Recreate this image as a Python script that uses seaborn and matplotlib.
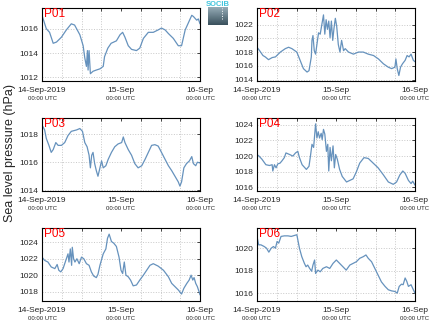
import numpy as np
import pandas as pd
import matplotlib
matplotlib.use("Agg")
import matplotlib.pyplot as plt
import seaborn as sns
from matplotlib.colors import LinearSegmentedColormap

# ---------------- data (hours since 14-Sep-2019 00:00 UTC, hPa) ----------------
p01_h = [0, 1.3, 2.3, 3.4, 4.4, 5.9, 7.4, 8.9, 9.9, 11.5, 12.5, 13.0, 13.5, 13.8, 14.0, 14.3, 14.7,
         15.5, 16.5, 17.6, 18.6, 19.0, 20.0, 21.0, 22.6, 23.7, 24.5, 25.2, 26.2, 27.2, 28.7, 29.7,
         30.8, 32.3, 33.8, 35.3, 36.3, 37.4, 38.4, 39.9, 41.4, 42.4, 43.5, 44.5, 45.5, 46.0, 47.0, 47.5, 48.0]
p01_v = [1017.1, 1016.0, 1015.7, 1014.8, 1014.9, 1015.3, 1015.9, 1016.4, 1016.3, 1015.5, 1014.6, 1013.6,
         1012.9, 1014.2, 1012.6, 1014.2, 1012.3, 1012.5, 1012.6, 1012.7, 1012.9, 1013.7, 1014.4, 1014.8,
         1015.0, 1015.5, 1015.7, 1015.3, 1014.6, 1014.3, 1014.2, 1014.4, 1015.2, 1015.7, 1015.7, 1015.9,
         1016.05, 1015.9, 1015.6, 1015.2, 1014.6, 1014.6, 1015.9, 1016.5, 1017.1, 1017.0, 1016.7, 1016.8, 1016.4]

p02_h = [0, 0.8, 1.8, 2.5, 3.5, 4.6, 5.6, 7.1, 8.6, 9.6, 10.6, 12.1, 13.1, 14.1, 15.2, 15.8, 16.5, 16.7,
         17.0, 17.4, 17.8, 18.2, 18.7, 19.2, 19.7, 20.2, 20.6, 21.0, 21.4, 21.8, 22.2, 22.6, 23.0, 23.4,
         23.8, 24.2, 24.7, 25.2, 25.7, 26.3, 26.8, 27.8, 29.3, 30.8, 32.3, 33.8, 35.4, 36.9, 38.4, 39.9,
         40.9, 41.9, 42.2, 42.6, 43.1, 43.6, 44.2, 45.0, 45.6, 46.2, 46.8, 47.5, 48.0]
p02_v = [1018.7, 1018.2, 1017.5, 1017.3, 1016.9, 1017.2, 1017.3, 1018.0, 1018.5, 1018.7, 1018.5, 1018.0,
         1016.8, 1015.6, 1015.1, 1015.3, 1017.3, 1019.7, 1020.4, 1018.2, 1017.7, 1019.1, 1020.8, 1020.6,
         1022.0, 1023.4, 1020.6, 1022.7, 1021.3, 1022.5, 1020.1, 1022.5, 1019.7, 1021.5, 1022.9, 1021.8,
         1019.1, 1018.0, 1019.7, 1018.2, 1018.5, 1018.0, 1017.7, 1018.0, 1018.0, 1017.7, 1017.5, 1017.0,
         1016.3, 1015.8, 1015.6, 1015.8, 1017.0, 1015.6, 1014.6, 1015.8, 1016.3, 1016.8, 1017.5, 1017.3,
         1017.7, 1016.8, 1016.6]

p03_h = [0, 0.8, 1.3, 2.1, 2.8, 3.4, 4.2, 4.9, 5.9, 6.9, 7.9, 8.9, 10.5, 11.5, 12.3, 13.0, 13.7, 14.3,
         14.7, 15.1, 15.5, 16.0, 16.5, 17.0, 17.5, 18.1, 18.6, 19.4, 20.1, 21.1, 22.1, 23.1, 24.2, 24.7,
         25.2, 26.2, 27.2, 28.2, 29.2, 30.3, 31.3, 32.3, 33.3, 34.3, 35.3, 36.3, 37.4, 38.4, 39.4, 40.4,
         41.4, 41.9, 42.4, 43.1, 43.9, 44.8, 45.5, 46.0, 46.7, 47.2, 48.0]
p03_v = [1018.65, 1018.3, 1017.7, 1017.2, 1016.7, 1016.9, 1017.4, 1017.2, 1017.2, 1017.4, 1017.9, 1018.2,
         1018.3, 1018.4, 1018.2, 1017.4, 1017.1, 1016.5, 1015.6, 1016.5, 1016.7, 1015.9, 1015.4, 1015.0,
         1015.5, 1016.1, 1015.6, 1015.75, 1016.2, 1016.7, 1017.1, 1017.3, 1017.4, 1017.8, 1017.4, 1016.9,
         1016.5, 1015.9, 1015.6, 1015.75, 1016.2, 1016.7, 1017.2, 1017.25, 1017.15, 1016.7, 1016.2, 1015.75,
         1015.4, 1015.0, 1014.6, 1014.3, 1014.6, 1015.6, 1015.9, 1016.1, 1016.4, 1015.9, 1015.75, 1016.0, 1015.95]

p04_h = [0, 0.6, 1.5, 2.7, 3.8, 4.6, 4.8, 5.3, 5.8, 6.3, 7.0, 7.6, 8.3, 8.8, 9.9, 10.9, 11.7, 12.4, 12.9,
         13.7, 15.0, 15.8, 16.3, 16.7, 17.2, 17.8, 18.2, 18.6, 19.0, 19.5, 19.8, 20.2, 20.6, 21.1, 21.5,
         21.8, 22.2, 22.6, 23.1, 23.5, 23.9, 24.4, 25.1, 25.9, 27.2, 28.2, 29.2, 30.2, 31.2, 32.5, 33.8,
         35.3, 36.8, 38.4, 39.9, 41.4, 42.4, 43.4, 44.3, 45.0, 46.0, 46.8, 47.3, 48.0]
p04_v = [1020.2, 1020.0, 1019.6, 1018.9, 1018.8, 1018.9, 1018.1, 1018.9, 1018.5, 1019.0, 1019.1, 1019.4,
         1019.8, 1020.4, 1020.2, 1020.0, 1020.4, 1020.6, 1019.8, 1018.9, 1018.3, 1018.7, 1020.2, 1021.5,
         1021.1, 1024.1, 1022.3, 1023.1, 1022.3, 1022.9, 1022.1, 1023.4, 1022.8, 1020.6, 1021.5, 1018.1,
         1021.1, 1019.4, 1021.3, 1018.5, 1020.2, 1019.6, 1018.3, 1017.4, 1016.7, 1016.9, 1017.1, 1018.0,
         1019.1, 1019.8, 1019.7, 1019.1, 1018.5, 1017.6, 1016.7, 1016.4, 1016.7, 1017.6, 1018.1, 1017.8,
         1016.9, 1016.5, 1016.8, 1016.3]

p05_h = [0, 0.8, 1.8, 2.8, 3.9, 4.6, 5.1, 5.7, 6.4, 6.9, 7.4, 7.9, 8.2, 8.6, 9.0, 9.2, 9.6, 10.0, 10.6,
         11.3, 12.0, 12.7, 13.5, 14.3, 15.0, 15.7, 16.5, 17.0, 17.6, 18.6, 19.4, 19.9, 20.4, 21.1, 21.8,
         22.6, 23.4, 24.0, 24.5, 25.0, 25.5, 26.2, 26.9, 27.7, 28.7, 29.7, 30.8, 31.8, 32.8, 33.8, 35.3,
         36.9, 38.4, 39.4, 40.4, 41.4, 42.4, 43.1, 44.0, 44.7, 45.3, 45.8, 46.2, 46.7, 47.2, 47.7, 48.0]
p05_v = [1022.2, 1021.8, 1021.6, 1021.0, 1020.8, 1021.3, 1020.6, 1020.4, 1020.8, 1021.4, 1022.0, 1022.6,
         1021.6, 1023.2, 1021.2, 1023.4, 1022.0, 1021.6, 1022.0, 1021.4, 1022.2, 1022.0, 1021.4, 1021.2,
         1020.4, 1019.9, 1019.7, 1020.1, 1021.2, 1022.6, 1023.2, 1024.5, 1025.0, 1024.1, 1023.9, 1023.5,
         1022.2, 1020.6, 1020.2, 1021.6, 1020.0, 1019.8, 1019.4, 1018.7, 1018.8, 1019.4, 1020.0, 1020.6,
         1021.2, 1021.4, 1021.1, 1020.6, 1019.8, 1019.0, 1018.6, 1018.2, 1017.7, 1018.4, 1019.0, 1019.4,
         1020.0, 1019.4, 1019.7, 1019.0, 1018.6, 1018.0, 1017.6]

p06_h = [0, 0.5, 1.2, 2.2, 2.9, 3.6, 4.3, 5.0, 5.6, 6.1, 6.6, 7.3, 8.3, 9.4, 10.4, 12.1, 12.4, 12.9, 13.6,
         14.4, 14.9, 15.4, 16.0, 16.6, 17.0, 17.5, 17.8, 18.5, 19.2, 20.0, 21.1, 22.1, 23.1, 24.1, 25.1,
         26.1, 27.1, 28.2, 29.2, 30.2, 31.2, 32.3, 33.1, 33.8, 34.8, 35.8, 36.8, 37.8, 38.9, 39.9, 40.9,
         41.9, 42.6, 43.2, 43.9, 44.4, 45.0, 45.5, 46.0, 46.8, 47.5, 48.0]
p06_v = [1021.05, 1020.3, 1020.3, 1020.15, 1020.0, 1019.65, 1020.0, 1020.15, 1020.0, 1020.6, 1020.45,
         1021.05, 1021.1, 1021.1, 1021.05, 1021.2, 1020.75, 1020.0, 1019.25, 1018.65, 1018.35, 1018.5,
         1018.2, 1017.95, 1018.5, 1018.95, 1017.75, 1018.05, 1017.9, 1018.2, 1018.35, 1018.2, 1018.65,
         1018.95, 1018.65, 1018.35, 1018.05, 1018.5, 1018.65, 1018.8, 1019.1, 1019.25, 1019.4, 1019.1,
         1018.8, 1018.2, 1017.6, 1017.0, 1016.6, 1016.3, 1016.2, 1016.15, 1016.0, 1016.6, 1016.8, 1016.75,
         1017.35, 1017.05, 1016.6, 1016.75, 1016.3, 1016.0]

stations = ["P01", "P02", "P03", "P04", "P05", "P06"]
hours = [p01_h, p02_h, p03_h, p04_h, p05_h, p06_h]
values = [p01_v, p02_v, p03_v, p04_v, p05_v, p06_v]
ylims = [(1011.7, 1017.7), (1013.8, 1024.4), (1013.95, 1019.15),
         (1015.55, 1024.85), (1016.85, 1025.75), (1015.3, 1021.8)]
yticks = [[1012, 1014, 1016], [1014, 1016, 1018, 1020, 1022], [1014, 1016, 1018],
          [1016, 1018, 1020, 1022, 1024], [1018, 1020, 1022, 1024], [1016, 1018, 1020]]
xtick_pos = [0, 24, 48]
xtick_labels = ["14-Sep-2019", "15-Sep", "16-Sep"]
xtick_sub = "00:00 UTC"

# ---------------- style ----------------
sns.set_style("white")
plt.rcParams["font.family"] = ["Liberation Sans", "DejaVu Sans"]

W, H = 434, 327
fig = plt.figure(figsize=(W / 100, H / 100), dpi=100)

lefts = [42, 257]
tops = [8, 118, 228]
pw, ph = 158, 73
line_color = "#6692bd"

for i, name in enumerate(stations):
    r, c = divmod(i, 2)
    l, t = lefts[c], tops[r]
    ax = fig.add_axes([l / W, (H - t - ph) / H, pw / W, ph / H])
    df = pd.DataFrame({"hour": hours[i], "slp": values[i]})
    sns.lineplot(data=df, x="hour", y="slp", ax=ax, color=line_color, lw=0.9,
                 estimator=None, sort=False)
    ax.set_xlim(0, 48)
    ax.set_ylim(*ylims[i])
    ax.set_yticks(yticks[i])
    ax.set_yticklabels([str(v) for v in yticks[i]], fontsize=6)
    ax.set_xticks(xtick_pos)
    ax.set_xticklabels(xtick_labels, fontsize=6)
    ax.set_xticks(np.arange(0, 49, 6), minor=True)
    ax.tick_params(axis="both", which="both", direction="in", length=2, width=0.6,
                   top=True, right=True, pad=3)
    ax.tick_params(axis="x", which="major", pad=4)
    ax.grid(True, which="minor", axis="x", color="#c8c8c8", linestyle=":", lw=0.7)
    ax.grid(True, which="major", axis="y", color="#c8c8c8", linestyle=":", lw=0.7)
    ax.set_xlabel("")
    ax.set_ylabel("")
    for s in ax.spines.values():
        s.set_color("black")
        s.set_linewidth(0.8)
    ax.text(0.012, 1.0, name, transform=ax.transAxes, color="red", fontsize=8.5,
            ha="left", va="top")
    for xp in xtick_pos:
        ax.text(xp, -0.245, xtick_sub, transform=ax.get_xaxis_transform(),
                fontsize=4.3, ha="center", va="center", color="#222222")

fig.text(10 / W, 1 - 153 / H, "Sea level pressure (hPa)", rotation=90,
         fontsize=9, ha="center", va="center")

# small logo
lax = fig.add_axes([208 / W, (H - 25) / H, 20 / W, 18 / H])
grad = np.linspace(0, 1, 30).reshape(-1, 1)
cmap = LinearSegmentedColormap.from_list("lg", ["#95abb6", "#3a515d"])
lax.imshow(grad, aspect="auto", cmap=cmap)
lax.plot([0.72, 0.72], [0.35, 0.95], transform=lax.transAxes, color="white",
         lw=0.7, linestyle=":")
lax.axis("off")
fig.text(218 / W, 1 - 4.5 / H, "SOCIB", color="#40c4dc", fontsize=5.5,
         ha="center", va="center", fontweight="bold")

fig.savefig("out.png", dpi=100)
